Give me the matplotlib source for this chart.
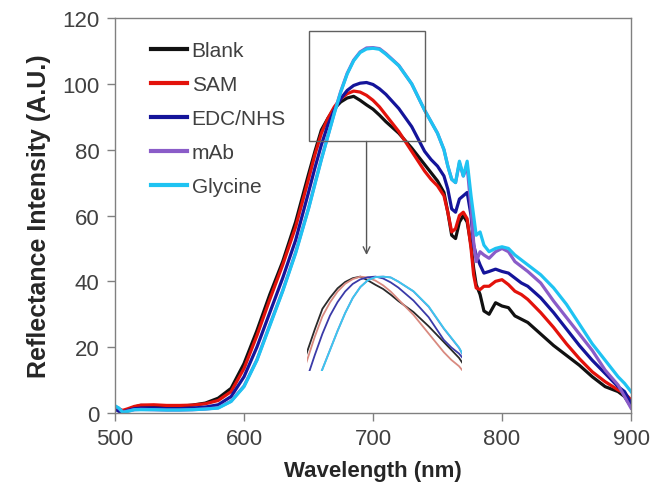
import matplotlib
matplotlib.use("Agg")
import matplotlib.pyplot as plt
import numpy as np

plt.rcParams['font.family'] = ['Liberation Sans', 'DejaVu Sans']

# ---------------- data ----------------
wavelength = [500, 503, 506, 510, 515, 520, 530, 540, 550, 560, 570, 580, 590, 600,
              610, 620, 630, 640, 650, 655, 660, 665, 670, 675, 680, 685, 690, 695,
              700, 705, 710, 720, 730, 740, 745, 750, 755, 758, 761, 764, 767, 770,
              773, 776, 778, 780, 783, 786, 790, 795, 800, 805, 810, 815, 820, 830,
              840, 850, 860, 870, 880, 890, 895, 900]

blank = [1.5, 1.0, 0.5, 1.0, 1.8, 2.3, 2.2, 1.9, 2.0, 2.4, 3.0, 4.5, 7.5, 15.0,
         25.0, 36.0, 46.0, 58.0, 72.5, 79.5, 86.0, 89.5, 92.5, 94.5, 95.7, 96.2, 95.0, 93.6,
         92.3, 90.5, 88.5, 85.0, 80.5, 75.5, 73.0, 70.5, 67.0, 61.0, 54.0, 53.0, 58.0, 60.0,
         58.0, 51.0, 44.0, 39.0, 36.0, 31.0, 30.0, 33.5, 32.5, 32.0, 29.5, 28.5, 27.5, 24.0,
         20.5, 17.5, 14.5, 11.0, 8.0, 6.5, 5.0, 2.0]

sam = [1.8, 1.2, 0.8, 1.3, 2.0, 2.4, 2.5, 2.3, 2.3, 2.4, 2.8, 3.8, 6.5, 13.5,
       23.5, 34.5, 45.0, 56.5, 71.0, 78.5, 85.0, 89.5, 93.0, 95.5, 97.0, 97.8, 97.5, 96.5,
       95.0, 93.0, 90.5, 85.5, 79.5, 73.5, 71.0, 69.0, 66.0, 61.0, 55.0, 56.0, 60.0, 61.0,
       59.0, 50.0, 42.0, 38.0, 37.5, 38.5, 38.5, 40.0, 40.5, 39.0, 37.0, 36.0, 34.5, 30.5,
       26.0, 21.0, 16.5, 12.5, 9.5, 7.0, 6.0, 4.0]

edc_nhs = [1.2, 0.5, 0.3, 0.8, 1.3, 1.5, 1.5, 1.3, 1.3, 1.5, 1.8, 2.5, 5.0, 11.0,
           20.0, 30.5, 41.0, 52.5, 67.0, 74.5, 81.5, 87.5, 92.0, 95.5, 98.0, 99.5, 100.2, 100.4,
           99.8, 98.5, 96.8, 92.5, 87.0, 79.5, 77.0, 75.0, 72.0, 68.0, 62.0, 61.0, 65.0, 66.0,
           67.0, 60.0, 51.0, 48.0, 45.0, 42.5, 43.0, 43.7, 43.0, 42.5, 41.0, 39.5, 38.5, 35.0,
           30.5, 25.5, 20.5, 16.0, 12.0, 8.0, 6.5, 3.0]

mab = [2.0, 1.4, 0.3, 0.6, 1.0, 1.1, 1.0, 0.9, 0.9, 1.0, 1.2, 1.6, 3.6, 8.2,
       16.2, 26.8, 37.2, 48.8, 62.2, 69.8, 77.2, 84.2, 91.2, 97.7, 103.2, 107.2, 109.7, 110.9,
       111.0, 110.7, 109.2, 105.6, 100.0, 92.0, 88.5, 85.0, 80.0, 75.0, 71.0, 70.0, 76.0, 72.0,
       75.0, 62.0, 52.0, 46.0, 49.0, 48.0, 47.0, 49.0, 50.0, 49.0, 46.0, 44.5, 43.0, 39.5,
       34.0, 29.0, 24.0, 19.0, 13.0, 8.5, 5.0, 1.5]

glycine = [2.2, 1.5, 0.2, 0.5, 1.0, 1.0, 1.0, 0.9, 0.9, 1.0, 1.2, 1.5, 3.5, 8.0,
           16.0, 26.5, 37.0, 48.5, 62.0, 69.5, 77.0, 84.0, 91.0, 97.5, 103.0, 107.0, 109.5, 110.6,
           110.8, 110.5, 109.0, 105.5, 100.0, 92.0, 88.5, 85.0, 80.0, 75.0, 71.0, 70.0, 76.5, 72.0,
           76.5, 66.0, 60.0, 54.0, 55.0, 51.0, 49.0, 50.0, 50.5, 50.0, 48.0, 46.5, 45.0, 42.0,
           38.0, 33.0, 27.0, 21.0, 16.0, 11.0, 9.0, 6.5]

series_labels = ['Blank', 'SAM', 'EDC/NHS', 'mAb', 'Glycine']
series_values = [blank, sam, edc_nhs, mab, glycine]
series_colors = ['#111111', '#e3120b', '#14149a', '#8a5cc8', '#1ec3f2']
inset_colors = ['#2a2a2a', '#d98a80', '#3a3aa8', '#7a70d0', '#3cc8ee']

# zoom window shown as a box and the normalised inset range
zoom_wl = (650, 740)
zoom_val = (82.5, 116)
inset_wl = (650, 752)

x_ticks = [500, 600, 700, 800, 900]
y_ticks = [0, 20, 40, 60, 80, 100, 120]

# ---------------- figure ----------------
fig = plt.figure(figsize=(6.52, 5.02), dpi=100)
ax = fig.add_axes([115/652, 1 - 414/502, 516/652, 395/502])

for vals, lab, col in zip(series_values, series_labels, series_colors):
    ax.plot(wavelength, vals, color=col, lw=2.3, label=lab, solid_joinstyle='round')

ax.set_xlim(500, 900)
ax.set_ylim(0, 120)
ax.set_xticks(x_ticks)
ax.set_yticks(y_ticks)
ax.tick_params(axis='both', direction='out', length=6, width=1, color='#808080',
               labelsize=16, labelcolor='#404040', pad=5)
for s in ax.spines.values():
    s.set_color('#808080')
    s.set_linewidth(1.0)

ax.set_xlabel('Wavelength (nm)', fontsize=16, fontweight='bold', color='#262626', labelpad=8)
ax.set_ylabel('Reflectance Intensity (A.U.)', fontsize=18, fontweight='bold',
              color='#262626', labelpad=8)

leg = ax.legend(loc='upper left', bbox_to_anchor=(0.070, 0.942), frameon=False,
                fontsize=15, handlelength=1.7, handletextpad=0.25,
                labelspacing=0.72, borderpad=0, borderaxespad=0)
for t in leg.get_texts():
    t.set_color('#404040')
for h in leg.get_lines():
    h.set_linewidth(3)

# zoom box
ax.add_patch(plt.Rectangle((zoom_wl[0], zoom_val[0]), zoom_wl[1] - zoom_wl[0],
                           zoom_val[1] - zoom_val[0], fill=False,
                           edgecolor='#606060', lw=1.0, zorder=5))
# arrow from the box to the inset
mid = 0.5 * (zoom_wl[0] + zoom_wl[1])
ax.annotate('', xy=(mid, 48.0), xytext=(mid, zoom_val[0]),
            arrowprops=dict(arrowstyle='->', color='#555555', lw=1.0,
                            mutation_scale=12, shrinkA=0, shrinkB=0))

# inset with the normalised peaks
ins = ax.inset_axes([649, 12.8, 120, 29.0], transform=ax.transData)
wl_arr = np.array(wavelength, dtype=float)
for vals, col in zip(series_values, inset_colors):
    v = np.array(vals, dtype=float)
    ins.plot(wl_arr, v / v.max(), color=col, lw=1.3)
ins.set_xlim(*inset_wl)
ins.set_ylim(0.69, 1.004)
ins.axis('off')

fig.savefig('out.png', dpi=100)
